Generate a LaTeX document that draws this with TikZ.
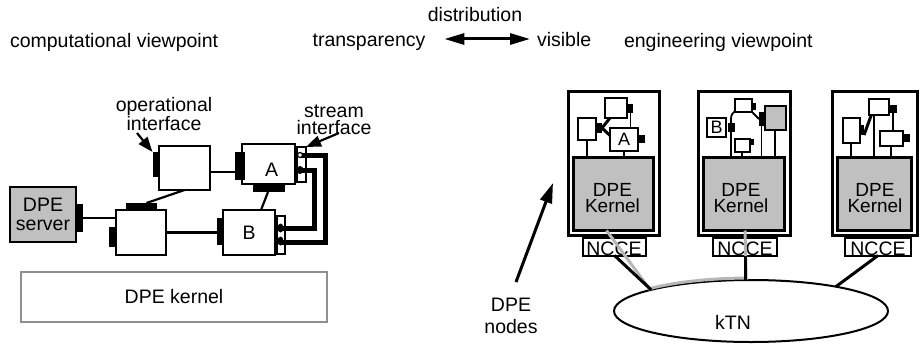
\documentclass[tikz,border=0pt]{standalone}
\usepackage{fontspec}
\setmainfont{Liberation Sans}
\usetikzlibrary{shapes.geometric,arrows.meta,calc}
\definecolor{kgray}{RGB}{192,192,192}
\definecolor{kframe}{RGB}{143,143,143}
\definecolor{shade}{RGB}{182,182,182}
\begin{document}
\begin{tikzpicture}[x=1pt,y=-1pt,
  every node/.style={font=\fontsize{19.5}{19}\selectfont, inner sep=0pt, outer sep=0pt},
  wbox/.style={draw, fill=white, line width=2.4pt},
  gbox/.style={draw, fill=kgray, line width=2.4pt},
  sbox/.style={draw, fill=white, line width=2pt, font=\fontsize{18}{18}\selectfont},
  gsbox/.style={draw, fill=kgray, line width=2pt},
  obox/.style={draw, fill=white, line width=3pt},
  ncbox/.style={draw, line width=2pt, minimum height=18pt},
  port/.style={fill=black, draw=none},
  wire/.style={line width=2.2pt},
  wirethin/.style={line width=1.8pt},
  wirethick/.style={line width=3pt},
  stream/.style={line width=5pt, line join=miter},
  ptr/.style={line width=2.2pt, -{Triangle[length=15pt,width=11pt]}},
  bigptr/.style={line width=3pt, -{Triangle[length=20pt,width=12pt]}},
  biarrow/.style={line width=3pt, {Triangle[length=20pt,width=11pt]}-{Triangle[length=20pt,width=11pt]}},
  shadowlink/.style={line width=3pt, draw=shade},
  ktext/.style={align=center, font=\fontsize{19}{16}\selectfont}
]
\useasboundingbox (0,0) rectangle (920,345);

% ---------- headings ----------
\node[anchor=base west] (cv) at (10,48) {computational viewpoint};
\node[anchor=base] (dist) at (475,22) {distribution};
\node[anchor=base] (tr) at (369,47) {transparency};
\node[anchor=base west] (vis) at (537,47) {visible};
\node[anchor=base west] (ev) at (624,48) {engineering viewpoint};
\draw[biarrow] ($(tr.base east)+(19,-8)$) -- ($(vis.base west)+(-7,-8)$);

% ---------- computational view ----------
\node[wbox, minimum width=306pt, minimum height=50pt, draw=kframe] (dk) at (174,297) {DPE kernel};

\node[gbox, minimum width=66pt, minimum height=55pt, align=center] (srv) at (43,214.5) {DPE\\server};
\node[wbox, minimum width=50pt, minimum height=45pt] (mid) at (141,232.5) {};
\node[wbox, minimum width=51pt, minimum height=44pt] (op) at (184.5,168) {};
\node[wbox, minimum width=53pt, minimum height=40pt] (A) at (268.5,164) {};
\node (Atext) at (271.5,170) {A};
\node[wbox, minimum width=52pt, minimum height=45pt] (B) at (249,232.5) {B};

\node[port, minimum width=6pt, minimum height=28pt] (srvP) at (80,218) {};
\node[port, minimum width=6pt, minimum height=20pt] (midL) at (112,237) {};
\node[port, minimum width=31pt, minimum height=7pt] (midT) at (141.5,206.5) {};
\node[port, minimum width=6pt, minimum height=25pt] (opL) at (155.5,164.5) {};
\node[port, minimum width=10pt, minimum height=28pt] (AL) at (240,166) {};
\node[port, minimum width=32pt, minimum height=7pt] (AB) at (269,188.5) {};
\node[port, minimum width=6pt, minimum height=27pt] (BL) at (220,231.5) {};

\draw[wire] (srvP.east) -- (srvP.east -| mid.west);
\draw[wire] ($(midT.north)+(5,0)$) -- (op.south);
\coordinate (opA) at ($(op.east)+(0,4)$);
\draw[wire] (opA) -- (opA -| AL.west);
\draw[wire] (mid.east) -- (mid.east -| BL.west);
\draw[wire] ($(AB.south)+(-1,0)$) -- ($(B.north)+(12,0)$);

% stream interfaces
\node[wbox, line width=2pt, minimum width=9pt, minimum height=35pt] (AS) at (301.5,164.5) {};
\node[wbox, line width=2pt, minimum width=8pt, minimum height=38pt] (BS) at (280.5,235) {};
\coordinate (sOut) at (325,242);
\coordinate (sIn) at (314,228);
\draw[stream] (300,155) -| (sOut) -- (281,242);
\draw[stream] (300,170) -| (sIn) -- (281,228);
\node[circle, draw, fill=white, line width=1.2pt, minimum size=5pt] (pA1) at (300,155) {};
\node[ellipse, fill=black, minimum width=7pt, minimum height=8pt] (pA2) at (300,170) {};
\node[ellipse, fill=black, minimum width=6pt, minimum height=9pt] (pB1) at (280.5,228) {};
\node[ellipse, fill=black, minimum width=6pt, minimum height=9pt] (pB2) at (280.5,241) {};

% labels with pointers
\node[anchor=north, align=center, font=\fontsize{19.5}{17}\selectfont] (opT) at (164,97) {operational\\interface};
\coordinate (opTail) at (137,133);
\draw[ptr] (opTail) -- (opL.north west);
\node[anchor=north, align=center, font=\fontsize{19.5}{17}\selectfont] (stT) at (334,105) {stream\\interface};
\coordinate (stTail) at (339,133);
\draw[ptr] (stTail) -- (AS.north east);

% ---------- engineering view ----------
\node[obox, minimum width=91pt, minimum height=144pt] (o1) at (614,163.5) {};
\node[obox, minimum width=92pt, minimum height=144pt] (o2) at (744.5,163.5) {};
\node[obox, minimum width=85pt, minimum height=144pt] (o3) at (875,163.5) {};
\node[gbox, minimum width=80pt, minimum height=73pt] (k1) at (613.5,194) {};
\node[gbox, minimum width=81pt, minimum height=73pt] (k2) at (744,194) {};
\node[gbox, minimum width=74pt, minimum height=73pt] (k3) at (874.5,194) {};
\node[ktext] (k1t) at ($(k1.center)+(-1,3.6)$) {DPE\\Kernel};
\node[ktext] (k2t) at ($(k2.center)+(-3,3.6)$) {DPE\\Kernel};
\node[ktext] (k3t) at ($(k3.center)+(0.5,3.6)$) {DPE\\Kernel};

% node 1 objects
\node[sbox, minimum width=22pt, minimum height=20pt] (u1) at (616,108) {};
\node[sbox, minimum width=18pt, minimum height=22pt] (l1) at (587,129) {};
\node[sbox, minimum width=28pt, minimum height=23pt] (a1) at (624,139.5) {A};
\node[port, minimum width=5pt, minimum height=9pt] (u1P) at (630.5,108.5) {};
\node[port, minimum width=5pt, minimum height=10pt] (l1P) at (599.5,128) {};
\node[port, minimum width=6pt, minimum height=8pt] (a1P) at (642,139) {};
\draw[wirethick] (l1P.east) -- ($(u1.south west)+(5,0)$);
\draw[wirethick] (l1P.east) -- ($(a1.west)+(0,-4)$);
\draw[wirethin] (u1P.south) -- (u1P.south |- a1.north);
\draw[wirethin] (l1.south) -- (l1.south |- k1.north);
\draw[wirethin] (a1.south) -- (a1.south |- k1.north);

% node 2 objects
\node[sbox, minimum width=19pt, minimum height=19pt] (b2) at (716.5,127.5) {B};
\node[sbox, minimum width=17pt, minimum height=13pt] (u2) at (743,105) {};
\node[gsbox, minimum width=21pt, minimum height=24pt] (g2) at (775,117.5) {};
\node[sbox, minimum width=15pt, minimum height=13pt] (s2) at (742,145) {};
\node[port, minimum width=7pt, minimum height=9pt] (b2P) at (731,127.5) {};
\node[port, minimum width=4pt, minimum height=7pt] (u2P) at (754,106) {};
\node[port, minimum width=5pt, minimum height=14pt] (g2P) at (761.5,119) {};
\node[port, minimum width=4pt, minimum height=6pt] (s2P) at (752,142) {};
\draw[wirethin] (b2P.north) .. controls +(0,-8) .. (u2.south west);
\draw[wirethin] (b2P.south) -- (b2P.south |- k2.north);
\draw[wirethin] (u2.south east) -- (g2P.west);
\draw[wirethin] (s2.south) -- (s2.south |- k2.north);
\draw[wirethin] (g2P.south) -- (g2P.south |- k2.north);
\draw[wirethin] (g2.south) -- (g2.south |- k2.north);

% node 3 objects
\node[sbox, minimum width=17pt, minimum height=25pt] (l3) at (851,130) {};
\node[sbox, minimum width=20pt, minimum height=16pt] (u3) at (878.5,106.5) {};
\node[sbox, minimum width=23pt, minimum height=15pt] (r3) at (891,138) {};
\node[port, minimum width=4pt, minimum height=10pt] (l3P) at (862,130) {};
\node[port, minimum width=7pt, minimum height=8pt] (u3P) at (893,109) {};
\node[port, minimum width=7pt, minimum height=8pt] (r3P) at (906.5,138) {};
\draw[wirethick] (l3P.south east) -- ($(u3.south west)+(3,0)$);
\draw[wirethin] (l3.south) -- (l3.south |- k3.north);
\coordinate (u3d) at ($(u3.south)+(-4.5,0)$);
\draw[wirethin] (u3d) -- (u3d |- k3.north);
\draw[wirethin] (u3P.south) -- (u3P.south |- r3.north);
\draw[wirethin] (r3.south) -- (r3.south |- k3.north);

% NCCE boxes (frame drawn over the text)
\node[anchor=base] (n1t) at (614,255.5) {NCCE};
\node[anchor=base] (n2t) at (745,255.5) {NCCE};
\node[anchor=base] (n3t) at (878,255.5) {NCCE};
\node[ncbox, minimum width=63pt] (n1) at (614.5,246.5) {};
\node[ncbox, minimum width=64pt] (n2) at (745,246.5) {};
\node[ncbox, minimum width=66pt] (n3) at (878,246.5) {};

% transport network
\node[ellipse, draw, line width=2pt, minimum width=274pt, minimum height=62pt] (ktn) at (751,311) {};
\node (ktnt) at (733,322) {kTN};
\draw[shadowlink] ($(k1.south)+(-7,0)$) -- ($(ktn.center)+(-101.7,-22.3)$)
  arc[start angle=-137.5, end angle=-92, x radius=138, y radius=33] -- ($(k2.south)+(1,0)$);
\draw[wirethick] (n1.south) -- (ktn.168);
\draw[wirethick] (n2.south) -- (n2.south |- ktn.north);
\draw[wirethick] (n3.south) -- (ktn.16);

% DPE nodes pointer
\node[anchor=north, align=center, font=\fontsize{19.5}{22}\selectfont] (dnT) at (511,298) {DPE\\nodes};
\coordinate (dnTail) at (516,282);
\coordinate (dnTip) at (553,183);
\draw[bigptr] (dnTail) -- (dnTip);
\end{tikzpicture}
\end{document}
